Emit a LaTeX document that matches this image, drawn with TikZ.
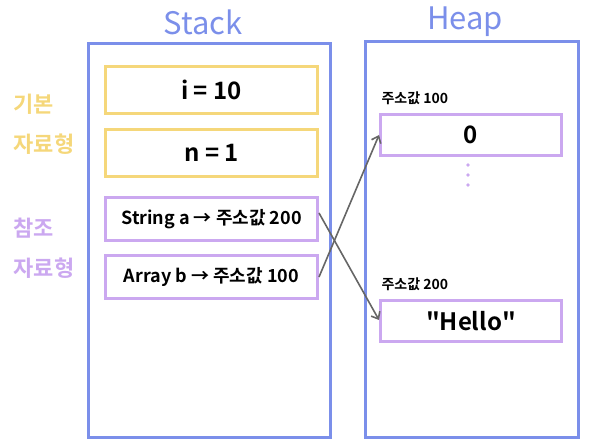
\documentclass[tikz,border=0pt]{standalone}
\usepackage{fontspec}
\setmainfont{Noto Sans CJK KR}[BoldFont={* Bold}]
\usetikzlibrary{calc, arrows.meta}

\begin{document}
\begin{tikzpicture}[x=1pt, y=-1pt]
    % Define colours
    \definecolor{areaColour}{HTML}{7B8FEA}
    \definecolor{basicColour}{HTML}{F5D77A}
    \definecolor{refColour}{HTML}{CBA8F0}
    \definecolor{arrowColour}{HTML}{666666}

    \tikzset{
        area/.style={draw=areaColour, line width=3pt},
        cell/.style={line width=3pt, minimum width=212pt, anchor=north west, inner sep=0pt, font=\bfseries\fontsize{24}{26}\selectfont},
        basic/.style={cell, draw=basicColour, minimum height=47pt},
        ref/.style={cell, draw=refColour, minimum height=43pt, font=\bfseries\fontsize{18}{20}\selectfont},
        heapcell/.style={cell, draw=refColour, minimum width=181pt, minimum height=41pt},
        addr/.style={anchor=west, font=\bfseries\fontsize{14}{15}\selectfont},
        title/.style={text=areaColour, font=\fontsize{31}{33}\selectfont},
        side/.style={font=\bfseries\fontsize{22}{40}\selectfont, align=left},
        pointer/.style={draw=arrowColour, line width=1.6pt, -{Straight Barb[length=6pt, width=10pt]}}
    }

    % Fix the picture size
    \useasboundingbox (0,0) rectangle (595,446);

    % Draw stack and heap areas
    \draw[area] (88,44) rectangle (330,438);
    \draw[area] (365,42) rectangle (578,438);
    \node[title] (stack) at (203,22) {Stack};
    \node[title] (heap) at (465,22) {Heap};

    % Side labels
    \node[side, text=basicColour] (basiclabel) at (44,124) {기본\\ 자료형};
    \node[side, text=refColour] (reflabel) at (44,248) {참조\\ 자료형};

    % Stack variables
    \node[basic] (i) at (104,65) {i = 10};
    \node[basic] (n) at (104,128) {n = 1};
    \node[ref] (a) at (104,196) {String a → 주소값 200};
    \node[ref] (b) at (104,254) {Array b → 주소값 100};

    % Heap objects
    \node[addr] (addr100) at (378,98) {주소값 100};
    \node[heapcell] (zero) at (379,113) {0};
    \foreach \y in {165,175,185}
        \fill[refColour] (468,\y) circle (1.8pt);
    \node[addr] (addr200) at (378,284) {주소값 200};
    \node[heapcell] (hello) at (379,299) {\textquotedbl Hello\textquotedbl};

    % Draw references
    \draw[pointer] (b.east) -- (zero.west);
    \draw[pointer] ($(a.east)+(0,-6)$) -- ($(hello.west)+(0,-1)$);

\end{tikzpicture}
\end{document}
